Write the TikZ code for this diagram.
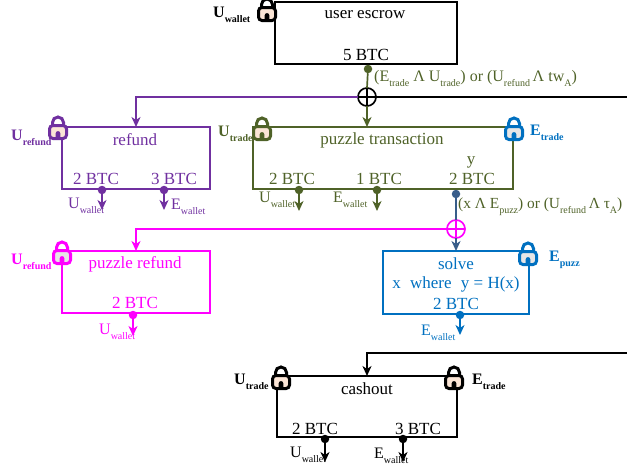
\documentclass[tikz,border=0pt]{standalone}
\usepackage{fontspec}
\setmainfont{Liberation Serif}
\usetikzlibrary{arrows.meta}
\definecolor{cpurple}{HTML}{7030A0}
\definecolor{colive}{HTML}{4F6228}
\definecolor{cblue}{HTML}{0070C0}
\definecolor{csteel}{HTML}{385D8A}
\definecolor{cmag}{HTML}{FF00FF}
\definecolor{cpeach}{HTML}{FBE5D6}
\definecolor{cgrey}{HTML}{E7E6E6}
\newcommand{\Mn}{\fontsize{17}{19}\selectfont}
\newcommand{\Sb}[1]{\raisebox{-5pt}{\fontsize{10}{11}\selectfont #1}}
\newcommand{\Lb}[2]{{\fontsize{16}{18}\selectfont #1}\Sb{#2}}
\newcommand{\Bb}[2]{\textbf{{\fontsize{16}{18}\selectfont #1}\Sb{#2}}}
\tikzset{
  x=1pt,y=-1pt,
  wire/.style={line width=1.7pt},
  arr/.style={wire,-{Stealth[length=10pt,width=9pt,inset=3pt]}},
  boxnode/.style={draw,line width=1.6pt,inner sep=0pt,outer sep=0pt},
  txt/.style={inner sep=0pt,font=\Mn,yshift=-1.5pt},
  btc/.style={inner sep=0pt,font=\Mn,yshift=-0.3pt},
  lab/.style={inner sep=0pt,anchor=base west},
  dotnode/.style={circle,fill,inner sep=0pt,minimum size=8.5pt,outer sep=0pt},
  xornode/.style={circle,draw,line width=1.7pt,inner sep=0pt,minimum size=18pt,outer sep=0pt},
  pics/lock/.style 2 args={code={
    \draw[line width=3pt,#1] (-5.5,0) -- (-5.5,-5.5) arc[start angle=180,end angle=0,x radius=5.5,y radius=-5.5] -- (5.5,0);
    \draw[line width=3pt,#1,fill=#2,rounded corners=3.5pt] (-8.5,-2.5) rectangle (8.5,10.5);
    \fill[#1] (-2.4,10.5) -- (-2.4,5.5) arc[start angle=180,end angle=0,x radius=2.4,y radius=-2.4] -- (2.4,10.5) -- cycle;
  }}
}
\begin{document}
\begin{tikzpicture}
\useasboundingbox (0,0) rectangle (627,469);
% ---- boxes
\node[boxnode,minimum width=182pt,minimum height=62pt] (escrow) at (366,33) {};
\node[boxnode,draw=cpurple,minimum width=148pt,minimum height=62pt] (refund) at (136,158) {};
\node[boxnode,draw=colive,minimum width=260pt,minimum height=62pt] (puzzle) at (383,158) {};
\node[boxnode,draw=cmag,minimum width=148pt,minimum height=62pt] (prefund) at (136,282) {};
\node[boxnode,draw=cblue,minimum width=146pt,minimum height=63pt] (solve) at (456,282.5) {};
\node[boxnode,minimum width=180pt,minimum height=61pt] (cashout) at (367,406.5) {};
% ---- box texts
\node[txt] (t1) at (365,13) {user escrow};
\node[btc] (t2) at (366,55) {5 BTC};
\node[txt,cpurple] (t3) at (135,138) {refund};
\node[btc,cpurple] (t4) at (96,179) {2 BTC};
\node[btc,cpurple] (t5) at (174,179) {3 BTC};
\node[txt,colive] (t6) at (382,139) {puzzle transaction};
\node[txt,colive] (t7) at (471,161) {y};
\node[btc,colive] (t8) at (292,179) {2 BTC};
\node[btc,colive] (t9) at (379,179) {1 BTC};
\node[btc,colive] (t10) at (472,179) {2 BTC};
\node[txt,cmag] (t11) at (135,263) {puzzle refund};
\node[btc,cmag] (t12) at (135,303) {2 BTC};
\node[btc,cblue] (t13) at (456,263) {solve};
\node[btc,cblue] (t14) at (456,284) {x\hspace{5pt} where\hspace{5pt} y = H(x)};
\node[btc,cblue] (t15) at (456,304) {2 BTC};
\node[btc] (t16) at (367,388) {cashout};
\node[btc] (t17) at (315,429) {2 BTC};
\node[btc] (t18) at (418,429) {3 BTC};
% ---- junctions
\node[dotnode,colive] (d0) at (368,69) {};
\node[xornode] (x1) at (367,97) {};
\draw[wire] (x1.north) -- (x1.south) (x1.west) -- (x1.east);
\node[dotnode,cpurple] (d1) at (102,190) {};
\node[dotnode,cpurple] (d2) at (164,190) {};
\node[dotnode,colive] (d3) at (299,190) {};
\node[dotnode,colive] (d4) at (377,190) {};
\node[dotnode,csteel] (d5) at (456,194) {};
\node[xornode,draw=cmag] (x2) at (456,229) {};
\node[dotnode,cmag] (d6) at (133,315) {};
\node[dotnode,cblue] (d7) at (460,315) {};
\node[dotnode,black] (d8) at (325,439) {};
\node[dotnode,black] (d9) at (403,439) {};
% ---- free ends
\coordinate (e1) at (627,97);
\coordinate (e2) at (627,353);
\coordinate (e3) at (102,210);
\coordinate (e4) at (164,210);
\coordinate (e5) at (299,211);
\coordinate (e6) at (377,211);
\coordinate (e7) at (133,336);
\coordinate (e8) at (460,335);
\coordinate (e9) at (325,462);
\coordinate (e10) at (403,462);
% ---- connectors
\draw[wire,colive] (d0) -- (x1.north);
\draw[arr,colive] (x1.south) -- (x1.south |- puzzle.north);
\draw[arr,cpurple] (x1.west) -| (refund.north);
\draw[wire] (x1.east) -- (e1);
\draw[wire,csteel] (d5) -- (x2.north);
\draw[arr,csteel] (x2.south) -- (solve.north);
\draw[arr,cmag] (x2.west) -| (prefund.north);
\draw[wire,cmag] (x2.north) -- (x2.south) (x2.west) -- (x2.east);
\draw[arr] (e2) -| (cashout.north);
\draw[arr,cpurple] (d1) -- (e3);
\draw[arr,cpurple] (d2) -- (e4);
\draw[arr,colive] (d3) -- (e5);
\draw[arr,colive] (d4) -- (e6);
\draw[arr,cmag] (d6) -- (e7);
\draw[arr,cblue] (d7) -- (e8);
\draw[arr] (d8) -- (e9);
\draw[arr] (d9) -- (e10);
% ---- locks
\pic at (267,10) {lock={black}{cpeach}};
\pic at (58,128) {lock={cpurple}{cpeach}};
\pic at (262,129) {lock={colive}{cpeach}};
\pic at (514,129) {lock={cblue}{cgrey}};
\pic at (62,253) {lock={cmag}{cgrey}};
\pic at (528,254) {lock={cblue}{cgrey}};
\pic at (281,378) {lock={black}{cpeach}};
\pic at (454,378) {lock={black}{cpeach}};
% ---- labels
\node[lab] (l1) at (213,17) {\Bb{U}{wallet}};
\node[lab] (l2) at (11,140) {\textcolor{cpurple}{\Bb{U}{refund}}};
\node[lab] (l3) at (218,136) {\textcolor{colive}{\Bb{U}{trade}}};
\node[lab] (l4) at (530,135) {\textcolor{cblue}{\Bb{E}{trade}}};
\node[lab] (l5) at (11,264) {\textcolor{cmag}{\Bb{U}{refund}}};
\node[lab] (l6) at (549,261) {\textcolor{cblue}{\Bb{E}{puzz}}};
\node[lab] (l7) at (234,384) {\Bb{U}{trade}};
\node[lab] (l8) at (472,384) {\Bb{E}{trade}};
\node[lab,cpurple] (l9) at (68,208) {\Lb{U}{wallet}};
\node[lab,cpurple] (l10) at (171,209) {\Lb{E}{wallet}};
\node[lab,colive] (l11) at (259,202) {\Lb{U}{wallet}};
\node[lab,colive] (l12) at (333,202) {\Lb{E}{wallet}};
\node[lab,cmag] (l13) at (99,334) {\Lb{U}{wallet}};
\node[lab,cblue] (l14) at (421,335) {\Lb{E}{wallet}};
\node[lab] (l15) at (290,457) {\Lb{U}{wallet}};
\node[lab] (l16) at (374,458) {\Lb{E}{wallet}};
\node[lab,colive] (l17) at (374,81) {\Lb{(E}{trade}\Lb{ Λ U}{trade}{\fontsize{16}{18}\selectfont ) or (U}\Sb{refund}\Lb{\,Λ tw}{A}{\fontsize{16}{18}\selectfont )}};
\node[lab,colive] (l18) at (458,208) {{\fontsize{15.4}{18}\selectfont (x Λ E}\Sb{puzz}{\fontsize{15.4}{18}\selectfont ) or (U}\Sb{refund}{\fontsize{15.4}{18}\selectfont\,Λ τ}\Sb{A}{\fontsize{15.4}{18}\selectfont )}};
\end{tikzpicture}
\end{document}
